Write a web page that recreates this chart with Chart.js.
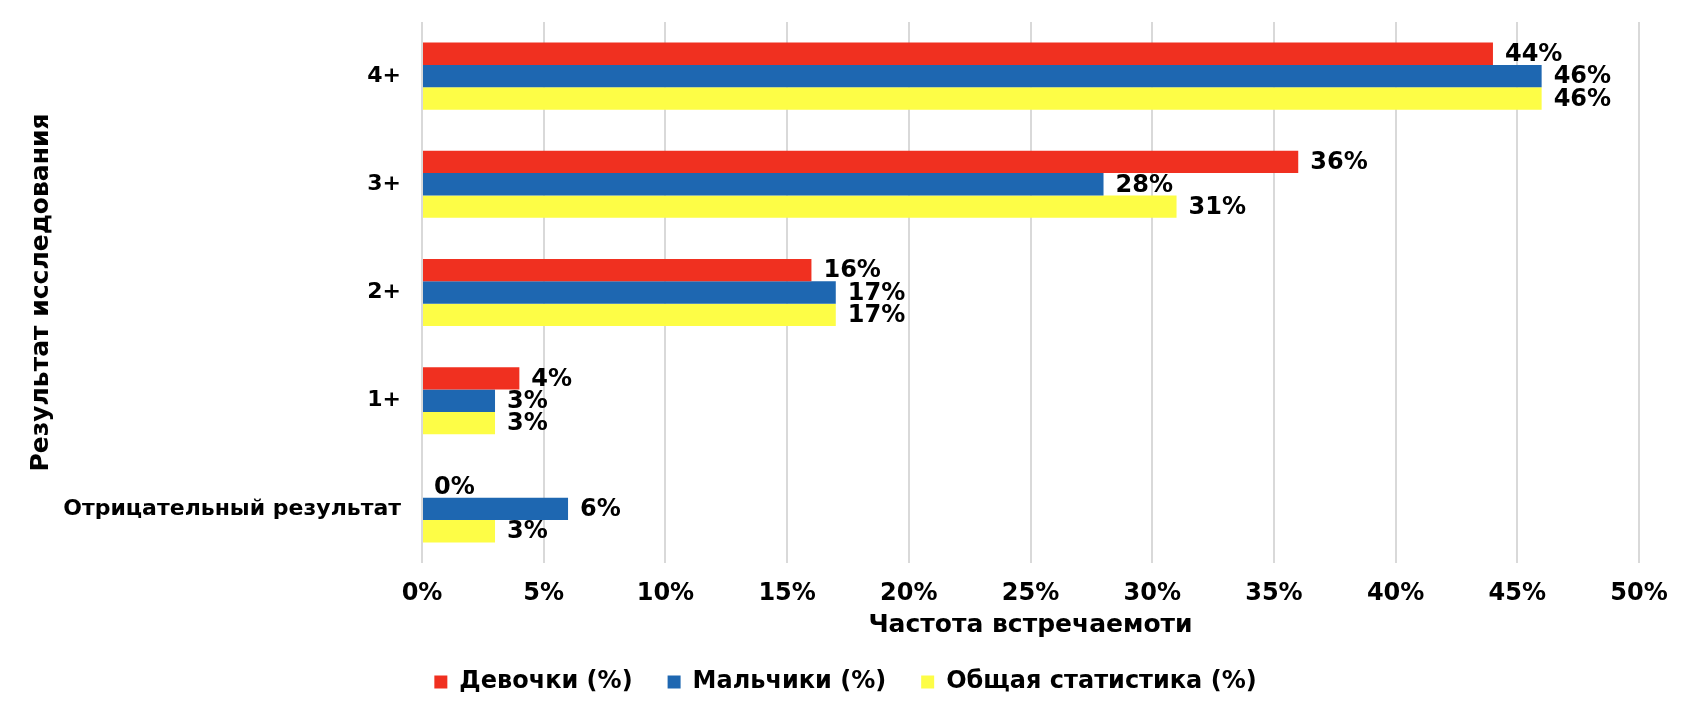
<!DOCTYPE html>
<html>
<head>
<meta charset="utf-8">
<script src="https://cdn.jsdelivr.net/npm/chart.js@4/dist/chart.umd.min.js"></script>
<style>
  html, body { margin: 0; padding: 0; background: #fff; }
  #wrap { width: 1690px; height: 710px; }
</style>
</head>
<body>
<div id="wrap"><canvas id="resChart"></canvas></div>
<script>
// Data
const categories = ['4+', '3+', '2+', '1+', 'Отрицательный результат'];
const girls = [44, 36, 16, 4, 0];
const boys = [46, 28, 17, 3, 6];
const total = [46, 31, 17, 3, 3];
const seriesNames = ['Девочки (%)', 'Мальчики (%)', 'Общая статистика (%)'];
const xTicks = [0, 5, 10, 15, 20, 25, 30, 35, 40, 45, 50];

const FONT = '"DejaVu Sans", Verdana, sans-serif';
Chart.defaults.font.family = FONT;
Chart.defaults.font.weight = 'bold';
Chart.defaults.color = '#000';

// value labels at the end of every bar
const barLabels = {
    id: 'barLabels',
    afterDatasetsDraw(chart) {
        const ctx = chart.ctx;
        ctx.save();
        ctx.font = 'bold 24px ' + FONT;
        ctx.fillStyle = '#000';
        ctx.textAlign = 'left';
        ctx.textBaseline = 'middle';
        chart.data.datasets.forEach((ds, i) => {
            chart.getDatasetMeta(i).data.forEach((bar, j) => {
                ctx.fillText(ds.data[j] + '%', bar.x + 12, bar.y + 1);
            });
        });
        ctx.restore();
    }
};

const ctx = document.getElementById('resChart').getContext('2d');
const resChart = new Chart(ctx, {
    type: 'bar',
    data: {
        labels: categories,
        datasets: [
            { label: seriesNames[0], data: girls, backgroundColor: '#F03020' },
            { label: seriesNames[1], data: boys, backgroundColor: '#1E67B1' },
            { label: seriesNames[2], data: total, backgroundColor: '#FDFD46' }
        ]
    },
    options: {
        indexAxis: 'y',
        responsive: true,
        maintainAspectRatio: false,
        animation: false,
        datasets: {
            bar: { categoryPercentage: 0.62, barPercentage: 1.0, borderWidth: 0 }
        },
        layout: { padding: { top: 22, right: 25, bottom: 6, left: 26 } },
        plugins: {
            legend: {
                position: 'bottom',
                labels: {
                    boxWidth: 13,
                    boxHeight: 13,
                    padding: 35,
                    font: { size: 24, weight: 'bold' },
                    color: '#000'
                }
            },
            tooltip: { enabled: false }
        },
        scales: {
            x: {
                min: 0,
                max: 50,
                afterBuildTicks(scale) {
                    scale.ticks = xTicks.map(v => ({ value: v }));
                },
                afterFit(scale) { scale.height = 72; },
                ticks: {
                    padding: 16,
                    font: { size: 24, weight: 'bold' },
                    color: '#000',
                    callback: v => v + '%'
                },
                grid: { color: '#d9d9d9', lineWidth: 2, drawTicks: false },
                border: { display: false },
                title: {
                    display: true,
                    text: 'Частота встречаемоти',
                    font: { size: 25, weight: 'bold' },
                    color: '#000',
                    padding: { top: 0, bottom: -5 }
                }
            },
            y: {
                afterFit(scale) {
                    scale.width = 396;
                    // labels sit inside their bands, no extra room needed above/below
                    scale.paddingTop = 0;
                    scale.paddingBottom = 0;
                },
                ticks: {
                    padding: 21,
                    font: { size: 22, weight: 'bold' },
                    color: '#000'
                },
                grid: { display: false, drawTicks: false },
                border: { display: false },
                title: {
                    display: true,
                    text: 'Результат исследования',
                    font: { size: 25, weight: 'bold' },
                    color: '#000',
                    padding: { top: 0, bottom: 0 }
                }
            },
            // empty spacer on the right so the plot ends where the reference does
            yGap: {
                type: 'category',
                labels: categories,
                position: 'right',
                afterFit(scale) {
                    scale.width = 26;
                    scale.paddingTop = 0;
                    scale.paddingBottom = 0;
                },
                ticks: { display: false },
                grid: { display: false, drawTicks: false },
                border: { display: false }
            }
        }
    },
    plugins: [barLabels]
});
</script>
</body>
</html>
